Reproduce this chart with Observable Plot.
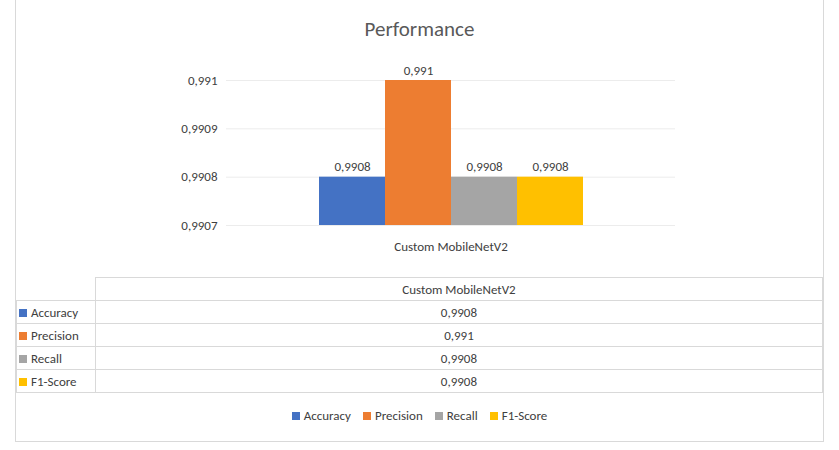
<!DOCTYPE html>
<html><head><meta charset="utf-8">
<script src="https://cdn.jsdelivr.net/npm/d3@7"></script>
<script src="https://cdn.jsdelivr.net/npm/@observablehq/plot@0.6"></script>
<style>
body{margin:0;font-family:Calibri,"Liberation Sans",Arial,sans-serif;background:#fff}
#frame{position:absolute;left:15px;top:-1px;width:807px;height:441px;border:1px solid #d9d9d9}
#title{position:absolute;top:16px;width:100%;text-align:center;font-size:21px;color:#595959}
#chart{position:absolute;left:140px;top:55px}
table{position:absolute;left:0;top:277px;border-collapse:collapse;font-size:13px;color:#404040}
td{border:1px solid #d9d9d9;height:22px;text-align:center;padding:0}
td.h{text-align:left;width:76px;padding-left:2px}
.sw{display:inline-block;width:8px;height:8px;margin-right:4px}
#legend{position:absolute;top:408px;width:100%;text-align:center;font-size:13px;color:#404040}
#legend span.i{margin:0 6px}
</style></head><body>
<div id="frame">
<div id="title">Performance</div>
<div id="chart"></div>
<table id="tbl"></table>
<div id="legend"></div>
</div>
<script>
const category = "Custom MobileNetV2"
const series = ["Accuracy", "Precision", "Recall", "F1-Score"]
const values = [0.9908, 0.991, 0.9908, 0.9908]
const colors = ["#4472C4", "#ED7D31", "#A5A5A5", "#FFC000"]
const yTicks = [0.9907, 0.9908, 0.9909, 0.991]

const fmt = v => String(v).replace(".", ",")
const data = series.map((s, i) => ({series: s, value: values[i], base: 0.9907}))

let chart = Plot.plot({
  width: 520, height: 205,
  marginLeft: 70, marginBottom: 35, marginTop: 25,
  style: {fontSize: "13px", color: "#404040", fontFamily: "Calibri, 'Liberation Sans', sans-serif"},
  x: {domain: series, paddingInner: 0, paddingOuter: 1.4, axis: null},
  y: {domain: [0.9907, 0.991], ticks: yTicks, tickFormat: fmt, label: null, tickSize: 0, grid: true},
  color: {domain: series, range: colors},
  marks: [
    Plot.barY(data, {x: "series", y1: "base", y2: "value", fill: "series", insetLeft: 0, insetRight: 0}),
    Plot.text(data, {x: "series", y: "value", text: d => fmt(d.value), dy: -10, fill: "#404040"}),
    Plot.text([category], {frameAnchor: "bottom", dy: 25, text: d => d, fill: "#404040"})
  ]
})
d3.select('#chart').append(() => chart)

const tbl = d3.select('#tbl')
const head = tbl.append('tr')
head.append('td').style('border-left', 'none').style('border-top', 'none').attr('class', 'h')
head.append('td').style('width', '728px').text(category)
series.forEach((s, i) => {
  const tr = tbl.append('tr')
  tr.append('td').attr('class', 'h').html(`<span class="sw" style="background:${colors[i]}"></span>${s}`)
  tr.append('td').text(fmt(values[i]))
})
d3.select('#legend').html(series.map((s, i) =>
  `<span class="i"><span class="sw" style="background:${colors[i]}"></span>${s}</span>`).join(''))
</script>
</body></html>
